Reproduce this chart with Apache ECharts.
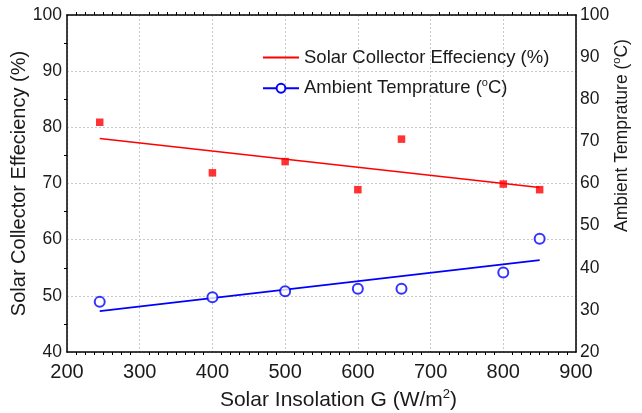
<!DOCTYPE html>
<html><head><meta charset="utf-8">
<script src="https://cdn.jsdelivr.net/npm/echarts@6/dist/echarts.min.js"></script>
<style>html,body{margin:0;padding:0;background:#fff}#c{width:642px;height:413px}</style>
</head><body><div id="c"></div>
<script>
const insolation = [245, 400, 500, 600, 660, 800, 850];
const efficiency = [80.9, 71.9, 73.9, 68.9, 77.9, 69.9, 68.9];
const ambientTemp = [31.9, 33.0, 34.4, 35.0, 35.0, 38.9, 46.9];
const effFitX = [245, 850];
const effFitY = [78.0, 69.3];
const tempFitX = [245, 850];
const tempFitY = [29.7, 41.8];
const xTicks = [200, 300, 400, 500, 600, 700, 800, 900];
const leftTicks = [40, 50, 60, 70, 80, 90, 100];
const rightTicks = [20, 30, 40, 50, 60, 70, 80, 90, 100];

const FONT = 'Liberation Sans, Arial, sans-serif';
const TXT = '#1a1a1a';
const pairs = (xs, ys) => xs.map((x, i) => [x, ys[i]]);
const chart = echarts.init(document.getElementById('c'), null, {renderer: 'canvas'});
const axisLine = {show: true, lineStyle: {color: '#000', width: 1.5}};
const grid = {show: true, lineStyle: {color: '#c8c8c8', type: [2, 2], width: 1}};
function richFor(size) {
  const ss = Math.round(size * 0.62);
  return {
    n: {fontSize: size, fontFamily: FONT, color: TXT, lineHeight: size + 2},
    s: {fontSize: ss, fontFamily: FONT, color: TXT, lineHeight: ss,
        verticalAlign: 'bottom', padding: [0, 0, size + 2 - ss + 1, 0]}
  };
}
chart.setOption({
  animation: false,
  grid: {left: 67, right: 66, top: 15, bottom: 61, show: false, containLabel: false, outerBoundsMode: 'none'},
  legend: {
    left: 257, top: 43, orient: 'vertical', itemWidth: 36, itemHeight: 11, itemGap: 10,
    textStyle: {fontSize: 18.5, fontFamily: FONT, color: TXT, rich: richFor(18.5)},
    data: [{name: 'eff', itemStyle: {opacity: 0}}, 'temp'],
    formatter: n => n === 'eff' ? '{n|Solar Collector Effeciency (%)}' : '{n|Ambient Temprature (}{s|o}{n|C)}'
  },
  xAxis: [{
    type: 'value', min: 200, max: 900, interval: 100, position: 'bottom',
    axisLine, axisTick: {show: false},
    minorTick: {show: true, splitNumber: 8, length: 3, lineStyle: {color: '#000'}},
    axisLabel: {fontSize: 20, fontFamily: FONT, color: TXT, margin: 10},
    splitLine: grid,
    name: '{n|Solar Insolation G (W/m}{s|2}{n|)}', nameLocation: 'middle', nameGap: 37, nameMoveOverlap: false,
    nameTextStyle: {fontSize: 21, fontFamily: FONT, color: TXT, rich: richFor(21), padding: [0, 0, 0, 34]}
  }, {
    type: 'value', min: 200, max: 900, interval: 100, position: 'top',
    axisLine, axisTick: {show: false}, axisLabel: {show: false}, splitLine: {show: false},
    minorTick: {show: true, splitNumber: 8, length: 3, lineStyle: {color: '#000'}}
  }],
  yAxis: [{
    type: 'value', min: 40, max: 100, interval: 10, position: 'left',
    axisLine, axisTick: {show: false},
    minorTick: {show: true, splitNumber: 2, length: 3, lineStyle: {color: '#000'}},
    axisLabel: {fontSize: 17.5, fontFamily: FONT, color: TXT, margin: 5},
    splitLine: grid,
    name: 'Solar Collector Effeciency (%)', nameLocation: 'middle', nameGap: 38, nameMoveOverlap: false,
    nameTextStyle: {fontSize: 20, fontFamily: FONT, color: TXT}
  }, {
    type: 'value', min: 20, max: 100, interval: 10, position: 'right',
    axisLine, axisTick: {show: false}, splitLine: {show: false},
    axisLabel: {fontSize: 17.5, fontFamily: FONT, color: TXT, margin: 4},
    name: '{n|Ambient Temprature (}{s|o}{n|C)}', nameLocation: 'middle', nameGap: 36, nameRotate: 90, nameMoveOverlap: false,
    nameTextStyle: {fontSize: 17.5, fontFamily: FONT, color: TXT, rich: richFor(17.5), padding: [0, 0, 0, 96]}
  }],
  series: [
    {name: 'effPts', type: 'scatter', symbol: 'rect', symbolSize: 7.5, itemStyle: {color: '#ff0000'}, data: pairs(insolation, efficiency), z: 3},
    {name: 'eff', type: 'line', symbol: 'none', lineStyle: {color: '#ff0000', width: 1.6}, itemStyle: {color: '#ff0000'}, data: pairs(effFitX, effFitY)},
    {name: 'tempPts', type: 'scatter', yAxisIndex: 1, symbol: 'emptyCircle', symbolSize: 10, itemStyle: {color: '#0000ff', borderWidth: 1.2}, data: pairs(insolation, ambientTemp), z: 3},
    {name: 'temp', type: 'line', yAxisIndex: 1, symbol: 'emptyCircle', symbolSize: 10, showSymbol: false, lineStyle: {color: '#0000ff', width: 1.6}, itemStyle: {color: '#0000ff'}, data: pairs(tempFitX, tempFitY)}
  ]
});
</script></body></html>
